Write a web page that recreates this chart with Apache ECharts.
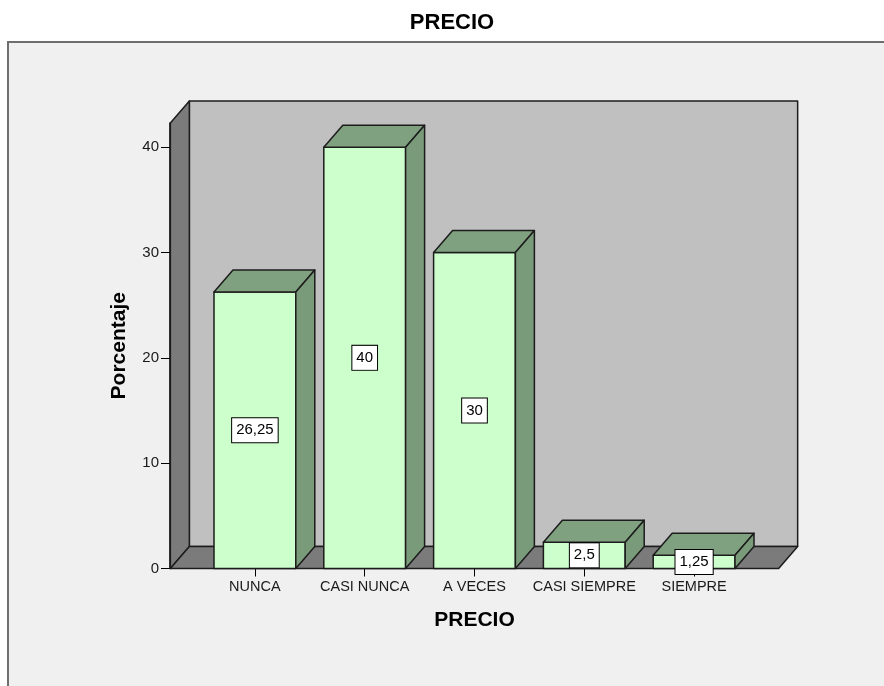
<!DOCTYPE html>
<html>
<head>
<meta charset="utf-8">
<script src="https://cdn.jsdelivr.net/npm/echarts@6/dist/echarts.min.js"></script>
<style>
  html, body { margin: 0; padding: 0; background: #fff; }
  #chart { width: 884px; height: 686px; }
</style>
</head>
<body>
<div id="chart"></div>
<script>
// Frecuencias porcentuales por categoría de respuesta
const categories = ['NUNCA', 'CASI NUNCA', 'A VECES', 'CASI SIEMPRE', 'SIEMPRE'];
const percentages = [26.25, 40, 30, 2.5, 1.25];
const yTicks = [0, 10, 20, 30, 40];
const yTop = 42.3;           // altura de las paredes del "cubo"

const FONT = '"Liberation Sans", Arial, sans-serif';
const DEPTH_X = 19;          // desplazamiento de profundidad (px)
const DEPTH_Y = -22;
const SIDE_PAD = 0.27;       // suelo extra a cada lado, en anchos de banda
const BAR_FRAC = 0.745;      // ancho de barra relativo a la banda
const EDGE = '#1c1c1c';

function fmt(v) { return String(v).replace('.', ','); }

function edgeStyle(fill) {
  return { fill: fill, stroke: EDGE, lineWidth: 1.5, lineJoin: 'round' };
}

// Paredes y suelo
function renderRoom(params, api) {
  const band = api.size([1, 0])[0];
  const first = api.coord([0, 0])[0];
  const last = api.coord([categories.length - 1, 0])[0];
  const x0 = first - band * (0.5 + SIDE_PAD);
  const x1 = last + band * (0.5 + SIDE_PAD);
  const yb = api.coord([0, 0])[1];
  const yt = api.coord([0, yTop])[1];
  const dx = DEPTH_X, dy = DEPTH_Y;
  return {
    type: 'group',
    children: [
      { type: 'polygon', shape: { points: [[x0 + dx, yt + dy], [x1 + dx, yt + dy], [x1 + dx, yb + dy], [x0 + dx, yb + dy]] }, style: edgeStyle('#c0c0c0') },
      { type: 'polygon', shape: { points: [[x0, yb], [x0, yt], [x0 + dx, yt + dy], [x0 + dx, yb + dy]] }, style: edgeStyle('#7b7b7b') },
      { type: 'polygon', shape: { points: [[x0, yb], [x1, yb], [x1 + dx, yb + dy], [x0 + dx, yb + dy]] }, style: edgeStyle('#7b7b7b') }
    ]
  };
}

// Barras en 3D con etiqueta de valor
function renderBar(params, api) {
  const idx = api.value(0);
  const val = api.value(1);
  const top = api.coord([idx, val]);
  const base = api.coord([idx, 0]);
  const w = api.size([1, 0])[0] * BAR_FRAC;
  const xl = top[0] - w / 2, xr = top[0] + w / 2;
  const yt = top[1], yb = base[1];
  const dx = DEPTH_X, dy = DEPTH_Y;
  const mid = api.coord([idx, val / 2]);
  return {
    type: 'group',
    children: [
      { type: 'polygon', shape: { points: [[xl, yb], [xr, yb], [xr, yt], [xl, yt]] }, style: edgeStyle('#ccffcc') },
      { type: 'polygon', shape: { points: [[xl, yt], [xr, yt], [xr + dx, yt + dy], [xl + dx, yt + dy]] }, style: edgeStyle('#80a180') },
      { type: 'polygon', shape: { points: [[xr, yt], [xr, yb], [xr + dx, yb + dy], [xr + dx, yt + dy]] }, style: edgeStyle('#7a9b7a') },
      {
        type: 'text',
        x: mid[0], y: mid[1],
        style: {
          text: fmt(val),
          font: '15px ' + FONT,
          fill: '#000',
          align: 'center',
          verticalAlign: 'middle',
          backgroundColor: '#fff',
          borderColor: '#000',
          borderWidth: 1,
          padding: [5, 4, 4, 4]
        }
      }
    ]
  };
}

const chart = echarts.init(document.getElementById('chart'), null, { renderer: 'canvas' });

chart.setOption({
  backgroundColor: '#ffffff',
  animation: false,
  graphic: [
    {
      type: 'rect', z: -10, silent: true,
      shape: { x: 8, y: 42, width: 900, height: 700 },
      style: { fill: '#f0f0f0', stroke: '#6e6e6e', lineWidth: 2 }
    },
    {
      type: 'text', x: 452, y: 23,
      style: { text: 'PRECIO', font: 'bold 22px ' + FONT, fill: '#000', align: 'center', verticalAlign: 'middle' }
    }
  ],
  grid: { left: 200, right: 135, top: 123, bottom: 117.5 },
  xAxis: {
    type: 'category',
    data: categories,
    axisLine: { show: false },
    axisTick: { show: true, alignWithLabel: true, length: 8, lineStyle: { color: '#000', width: 1 } },
    axisLabel: { interval: 0, hideOverlap: false, margin: 11, fontSize: 14.5, color: '#1a1a1a', fontFamily: FONT },
    name: 'PRECIO',
    nameLocation: 'middle',
    nameGap: 41,
    nameTextStyle: { fontSize: 21, fontWeight: 'bold', color: '#000', fontFamily: FONT }
  },
  yAxis: {
    type: 'value',
    min: 0,
    max: yTop,
    interval: 10,
    offset: 30,
    axisLine: { show: true, lineStyle: { color: '#000', width: 1.5 } },
    axisTick: { show: true, length: 9, customValues: yTicks, lineStyle: { color: '#000', width: 1 } },
    axisLabel: { margin: 11, fontSize: 15, color: '#1a1a1a', fontFamily: FONT, customValues: yTicks },
    splitLine: { show: false },
    name: 'Porcentaje',
    nameLocation: 'middle',
    nameGap: 40,
    nameTextStyle: { fontSize: 21, fontWeight: 'bold', color: '#000', fontFamily: FONT }
  },
  series: [
    {
      type: 'custom',
      clip: false,
      silent: true,
      z: 1,
      renderItem: renderRoom,
      data: [[0, 0]]
    },
    {
      type: 'custom',
      clip: false,
      z: 2,
      renderItem: renderBar,
      data: percentages.map((v, i) => [i, v])
    }
  ]
});
</script>
</body>
</html>
